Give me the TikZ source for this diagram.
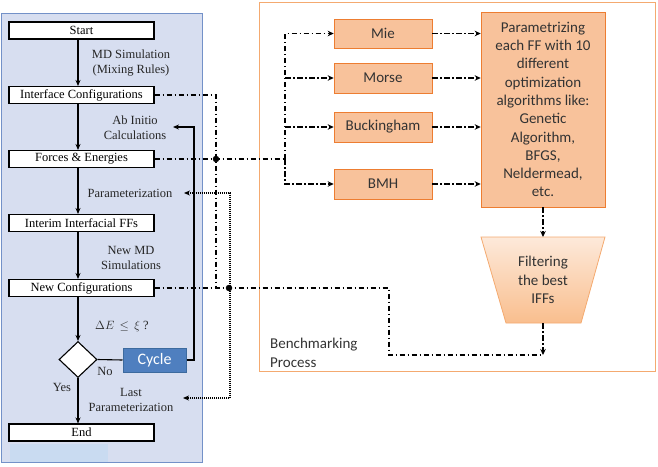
\documentclass[tikz,border=0pt]{standalone}
\usepackage{fontspec}
\setmainfont{Liberation Serif}
\newfontfamily\calib{Carlito}
\usetikzlibrary{arrows.meta,shapes.geometric}
\definecolor{panelfill}{HTML}{D7DEF0}
\definecolor{paneldraw}{HTML}{7391C8}
\definecolor{patch}{HTML}{C9DBF1}
\definecolor{orfill}{HTML}{F8C29B}
\definecolor{ordraw}{HTML}{ED7D31}
\definecolor{frameor}{HTML}{F4AA70}
\definecolor{cycfill}{HTML}{4F7FBF}
\definecolor{cycdraw}{HTML}{3C6A9E}
\definecolor{trtop}{HTML}{FDE9DA}
\definecolor{trbot}{HTML}{F9BE8E}
\definecolor{txtgray}{HTML}{333333}
\tikzset{
  wbox/.style={draw=black, line width=1.1pt, fill=white, minimum width=145pt, minimum height=17pt, inner sep=0pt, font=\fontsize{12.5}{15}\selectfont},
  lbl/.style={align=center, inner sep=0pt, text=black!85, font=\fontsize{12.5}{15}\selectfont},
  obox/.style={draw=ordraw, line width=0.6pt, fill=orfill, inner sep=0pt, text=txtgray, font=\calib\fontsize{15}{18.3}\selectfont},
  arr/.style={line width=1.1pt, -{Stealth[length=6pt,width=5pt]}},
  solid line/.style={line width=1.1pt},
  dd/.style={line width=1.2pt, dash pattern=on 5.5pt off 2.5pt on 1.5pt off 2.5pt},
  ddarr/.style={dd, -{Stealth[length=6pt,width=5.5pt]}},
  dotl/.style={line width=1.1pt, dash pattern=on 1pt off 1pt},
  jdot/.style={circle, fill=black, draw=black, inner sep=0pt, minimum size=6pt}
}
\begin{document}
\begin{tikzpicture}[x=1pt,y=-1pt]
\useasboundingbox (0,0) rectangle (658,466);
% left panel
\draw[fill=panelfill, draw=paneldraw, line width=1pt] (1.5,13) rectangle (202,462);
\fill[patch] (9.5,444) rectangle (108,461.5);
% benchmarking frame
\draw[frameor, line width=1pt] (259,2) rectangle (655,371);
% flowchart boxes
\node[wbox] (start) at (81.5,30.5) {Start};
\node[wbox] (ic) at (81.5,95) {Interface Configurations};
\node[wbox] (fe) at (81.5,159) {Forces \& Energies};
\node[wbox] (iif) at (81.5,223) {Interim Interfacial FFs};
\node[wbox] (nc) at (81.5,288) {New Configurations};
\node[wbox] (endn) at (81.5,432.5) {End};
\node[diamond, draw=black, line width=1.1pt, fill=white, minimum width=38pt, minimum height=36pt, inner sep=0pt] (dec) at (78,359.5) {};
\node[draw=cycdraw, line width=1pt, fill=cycfill, minimum width=63pt, minimum height=24pt, inner sep=0pt, text=white, font=\calib\fontsize{16}{18}\selectfont] (cycle) at (154.5,360) {Cycle};
% labels
\node[lbl] (lmd) at (131,63.5) {MD Simulation\\(Mixing Rules)};
\node[lbl] (lab) at (135,128) {Ab Initio\\Calculations};
\node[lbl] (lpar) at (130,193) {Parameterization};
\node[lbl] (lnew) at (131,257.5) {New MD\\Simulations};
\node[lbl] (lde) at (122,326) {$\Delta E\,\leq\,\xi$ ?};
\node[lbl] (lno) at (105,371) {No};
\node[lbl] (lyes) at (62,387) {Yes};
\node[lbl] (llast) at (131,399.5) {Last\\Parameterization};
% main flow arrows
\draw[arr] (start.south -| dec.north) -- (ic.north -| dec.north);
\draw[arr] (ic.south -| dec.north) -- (fe.north -| dec.north);
\draw[arr] (fe.south -| dec.north) -- (iif.north -| dec.north);
\draw[arr] (iif.south -| dec.north) -- (nc.north -| dec.north);
\draw[arr] (nc.south -| dec.north) -- (dec.north);
\draw[arr] (dec.south) -- (endn.north -| dec.south);
\draw[solid line] (dec.east) -- (cycle.west);
\coordinate (abin) at (173,127);
\draw[arr] (cycle.east) -| (194,127) -- (abin);
% dotted parameterization loop
\coordinate (ptip) at (184,193);
\coordinate (lptip) at (183,398);
\draw[dotl, {Stealth[length=6pt,width=5pt]}-{Stealth[length=6pt,width=5pt]}] (ptip) -- (230,193) -- (230,398) -- (lptip);
% right side boxes
\node[obox, minimum width=98pt, minimum height=29pt] (mie) at (383,33.5) {Mie};
\node[obox, minimum width=98pt, minimum height=30pt] (morse) at (383,78) {Morse};
\node[obox, minimum width=98pt, minimum height=30pt] (buck) at (383,127) {Buckingham};
\node[obox, minimum width=98pt, minimum height=30pt] (bmh) at (383,184) {BMH};
\node[obox, minimum width=124pt, minimum height=195pt, align=center] (param) at (543,109.5) {Parametrizing\\each FF with 10\\different\\optimization\\algorithms like:\\Genetic\\Algorithm,\\BFGS,\\Neldermead,\\etc.};
% filter trapezoid
\shade[top color=trtop, bottom color=trbot, draw=frameor, line width=0.8pt] (481,237) -- (605,237) -- (581,323) -- (506,323) -- cycle;
\node[inner sep=0pt, align=center, text=txtgray, font=\calib\fontsize{15}{18.5}\selectfont] (filt) at (543,280) {Filtering\\the best\\IFFs};
\coordinate (ftop) at (543,237);
\coordinate (fbot) at (543,323);
\coordinate (fout) at (543,355);
% benchmark label
\node[anchor=west, align=left, inner sep=0pt, text=txtgray, font=\calib\fontsize{15}{19}\selectfont] (bench) at (270,352.5) {Benchmarking\\Process};
% dash-dot connections
\coordinate (j1) at (216,159);
\coordinate (j2) at (229,288);
\coordinate (br) at (285,159);
\draw[dd] (ic.east) -- (216,95) -- (216,288);
\draw[dd] (fe.east) -- (br);
\draw[ddarr] (br) -- (285,33.5) -- (mie.west);
\draw[ddarr] (br) -- (285,184) -- (bmh.west);
\draw[ddarr] (285,78) -- (morse.west);
\draw[ddarr] (285,127) -- (buck.west);
\draw[ddarr] (mie.east) -- (param.west |- mie.east);
\draw[ddarr] (morse.east) -- (param.west |- morse.east);
\draw[ddarr] (buck.east) -- (param.west |- buck.east);
\draw[ddarr] (bmh.east) -- (param.west |- bmh.east);
\draw[ddarr] (param.south) -- (ftop);
\draw[ddarr] (fbot) -- (fout);
\draw[dd] (nc.east) -- (389,288) -- (389,355) -- (fout);
\node[jdot] (dot1) at (j1) {};
\node[jdot] (dot2) at (j2) {};
\end{tikzpicture}
\end{document}
